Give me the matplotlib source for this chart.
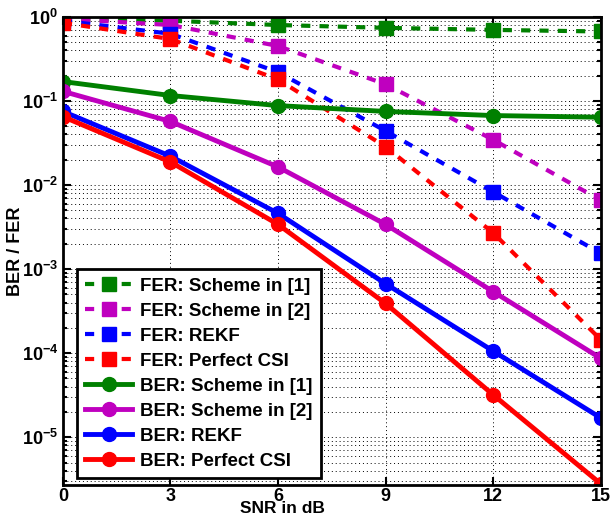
import numpy as np
import matplotlib.pyplot as plt
from matplotlib.ticker import LogLocator, NullFormatter

plt.rcParams['font.family'] = ['Liberation Sans', 'DejaVu Sans']
plt.rcParams['font.weight'] = 'bold'

snr = [0, 3, 6, 9, 12, 15]

fer_scheme1 = [0.95, 0.9, 0.8, 0.74, 0.7, 0.67]
fer_scheme2 = [0.95, 0.8, 0.45, 0.158, 0.0346, 0.0066]
fer_rekf = [0.9, 0.63, 0.22, 0.044, 0.0083, 0.00154]
fer_perfect = [0.85, 0.545, 0.18, 0.0285, 0.0027, 0.000145]

ber_scheme1 = [0.17, 0.116, 0.088, 0.075, 0.067, 0.064]
ber_scheme2 = [0.13, 0.057, 0.0164, 0.0034, 0.00054, 0.000087]
ber_rekf = [0.075, 0.022, 0.0046, 0.00067, 0.000106, 0.000017]
ber_perfect = [0.065, 0.0188, 0.0034, 0.00039, 0.000032, 0.0000028]

labels_fer = ["FER: Scheme in [1]", "FER: Scheme in [2]", "FER: REKF", "FER: Perfect CSI"]
labels_ber = ["BER: Scheme in [1]", "BER: Scheme in [2]", "BER: REKF", "BER: Perfect CSI"]
colors = ["#008000", "#BF00BF", "#0000FF", "#FF0000"]

fig = plt.figure(figsize=(6.11, 5.19), dpi=100)
ax = fig.add_axes([0.103, 0.0655, 0.880, 0.902])

for y, lab, c in zip([fer_scheme1, fer_scheme2, fer_rekf, fer_perfect], labels_fer, colors):
    ax.semilogy(snr, y, color=c, lw=3, dashes=(2.2, 2.2), marker="s", ms=10,
                mec=c, mfc=c, label=lab)
for y, lab, c in zip([ber_scheme1, ber_scheme2, ber_rekf, ber_perfect], labels_ber, colors):
    ax.semilogy(snr, y, color=c, lw=3.5, marker="o", ms=10, mec=c, mfc=c, label=lab)

ax.set_xlim(0, 15)
ax.set_ylim(2.7e-6, 1)
ax.set_xticks(snr)
ax.yaxis.set_major_locator(LogLocator(base=10, numticks=10))
ax.yaxis.set_minor_locator(LogLocator(base=10, subs=np.arange(2, 10), numticks=20))
ax.yaxis.set_minor_formatter(NullFormatter())

grid_style = dict(ls=(0, (1, 3)), color="black", lw=0.7)
ax.grid(True, which="major", axis="x", **grid_style)
ax.grid(True, which="both", axis="y", **grid_style)

ax.tick_params(which="both", direction="in", top=True, right=True, labelsize=13, width=1.5)
ax.tick_params(which="major", length=6)
ax.tick_params(which="minor", length=3)
ax.tick_params(axis="x", pad=2)
for lab in ax.get_xticklabels() + ax.get_yticklabels():
    lab.set_fontweight("bold")
for s in ax.spines.values():
    s.set_linewidth(2)

ax.set_xlabel("SNR in dB", fontsize=12.5, fontweight="bold")
ax.xaxis.set_label_coords(0.408, -0.034)
ax.set_ylabel("BER / FER", fontsize=13, fontweight="bold")
ax.yaxis.set_label_coords(-0.072, 0.5)

leg = ax.legend(loc="lower left", bbox_to_anchor=(0.026, 0.015), borderaxespad=0,
                fontsize=13.5, frameon=True, fancybox=False, framealpha=1,
                edgecolor="black", handlelength=2.5, borderpad=0.45,
                labelspacing=0.42, handletextpad=0.4)
leg.get_frame().set_linewidth(2)
for t in leg.get_texts():
    t.set_fontweight("bold")

fig.savefig("out.png", dpi=100)
